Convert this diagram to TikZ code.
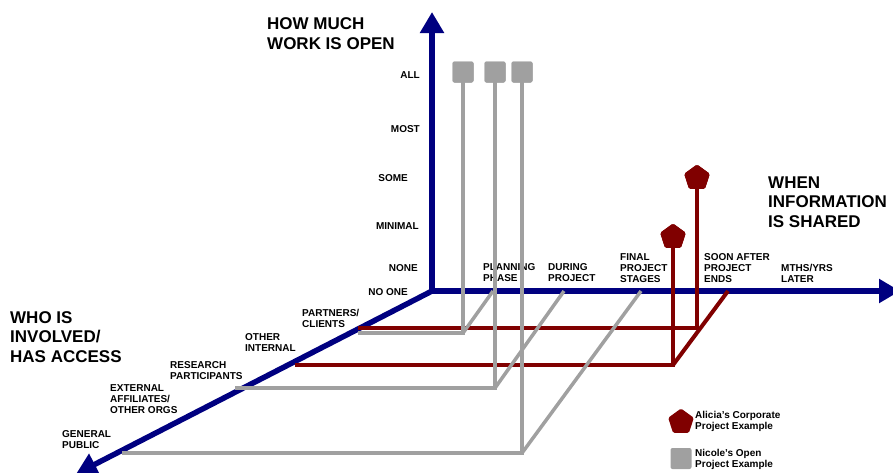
\documentclass[tikz,border=0pt]{standalone}
\usepackage{fontspec}
\setmainfont{Liberation Sans}
\usetikzlibrary{arrows.meta,shapes.geometric}
\definecolor{axisblue}{RGB}{0,0,128}
\definecolor{corpred}{RGB}{128,0,0}
\definecolor{opengray}{RGB}{160,160,160}
\begin{document}
\begin{tikzpicture}[x=1pt,y=-1pt,
  axisline/.style={line width=5.5pt, draw=axisblue, -{Triangle[length=21pt,width=23pt]}},
  corp/.style={line width=4pt, draw=corpred},
  openln/.style={line width=3.5pt, draw=opengray},
  lbl/.style={font=\fontsize{10}{11}\selectfont\bfseries, inner sep=0, align=left, anchor=west},
  vlbl/.style={font=\fontsize{10}{11}\selectfont\bfseries, inner sep=0, anchor=east},
  ttl/.style={font=\fontsize{17}{19.5}\selectfont\bfseries, inner sep=0, align=left, anchor=west},
  pent/.style={regular polygon, regular polygon sides=5, minimum size=27pt, fill=corpred, inner sep=0, rounded corners=1.5pt},
  sq/.style={rectangle, minimum size=21pt, fill=opengray, inner sep=0, rounded corners=2pt}]
\useasboundingbox (0,0) rectangle (893,472);
\clip (0,0) rectangle (893,472);
% axes
\coordinate (O) at (432,291);
\coordinate (Vtip) at (432,12);
\coordinate (Htip) at (900,291);
\coordinate (Dtip) at (76,474);
\draw[axisline] (O) -- (Vtip);
\draw[axisline] (O) -- (Htip);
\draw[axisline] (O) -- (Dtip);
% titles
\node[ttl] (tV) at (267,33.5) {HOW MUCH\\WORK IS OPEN};
\node[ttl] (tH) at (768,202) {WHEN\\INFORMATION\\IS SHARED};
\node[ttl] (tD) at (10,337) {WHO IS\\INVOLVED/\\HAS ACCESS};
% vertical labels
\node[vlbl] (vAll) at (420,75) {ALL};
\node[vlbl] (vMost) at (420,129) {MOST};
\node[vlbl] (vSome) at (408,178) {SOME};
\node[vlbl] (vMin) at (419,226) {MINIMAL};
\node[vlbl] (vNone) at (418,268) {NONE};
\node[vlbl] (vNoOne) at (408,292) {NO ONE};
% horizontal labels
\node[lbl] (hPlan) at (483,272.5) {PLANNING\\PHASE};
\node[lbl] (hDur) at (548,272.5) {DURING\\PROJECT};
\node[lbl] (hFin) at (620,268) {FINAL\\PROJECT\\STAGES};
\node[lbl] (hSoon) at (704,268) {SOON AFTER\\PROJECT\\ENDS};
\node[lbl] (hLater) at (781,273.5) {MTHS/YRS\\LATER};
% depth labels
\node[lbl] (dPart) at (302,318.5) {PARTNERS/\\CLIENTS};
\node[lbl] (dOther) at (245,342.5) {OTHER\\INTERNAL};
\node[lbl] (dRes) at (170,370.5) {RESEARCH\\PARTICIPANTS};
\node[lbl] (dExt) at (110,399) {EXTERNAL\\AFFILIATES/\\OTHER ORGS};
\node[lbl] (dPub) at (62,439.5) {GENERAL\\PUBLIC};
% tick points on horizontal axis
\coordinate (tP) at (493,291);
\coordinate (tDu) at (564,291);
\coordinate (tF) at (641,291);
\coordinate (tS) at (728,291);
% corporate (red) example
\coordinate (rA) at (358,328);
\coordinate (rA2) at (697,328);
\coordinate (rB) at (295,365);
\coordinate (rB2) at (673,365);
\node[pent] (pA) at (697,178) {};
\node[pent] (pB) at (673,237) {};
\draw[corp] (pA.center) -- (rA2) -- (rA);
\draw[corp] (pB.center) -- (rB2) -- (rB);
\draw[corp] (rB2) -- (tS);
\node[pent] at (pA) {};
\node[pent] at (pB) {};
% open (gray) example
\coordinate (gA) at (358,333);
\coordinate (gA2) at (463,333);
\coordinate (gB) at (235,388);
\coordinate (gB2) at (495,388);
\coordinate (gC) at (122,453);
\coordinate (gC2) at (522,453);
\node[sq] (sA) at (463,72) {};
\node[sq] (sB) at (495,72) {};
\node[sq] (sC) at (522,72) {};
\draw[openln] (sA.center) -- (gA2) -- (gA);
\draw[openln] (gA2) -- (tP);
\draw[openln] (sB.center) -- (gB2) -- (gB);
\draw[openln] (gB2) -- (tDu);
\draw[openln] (sC.center) -- (gC2) -- (gC);
\draw[openln] (gC2) -- (tF);
\node[sq] at (sA) {};
\node[sq] at (sB) {};
\node[sq] at (sC) {};
% legend
\node[pent] (legP) at (681,422) {};
\node[lbl] (legPt) at (695,421) {Alicia's Corporate\\Project Example};
\node[sq] (legS) at (681,458.5) {};
\node[lbl] (legSt) at (695,459) {Nicole's Open\\Project Example};
\end{tikzpicture}
\end{document}
